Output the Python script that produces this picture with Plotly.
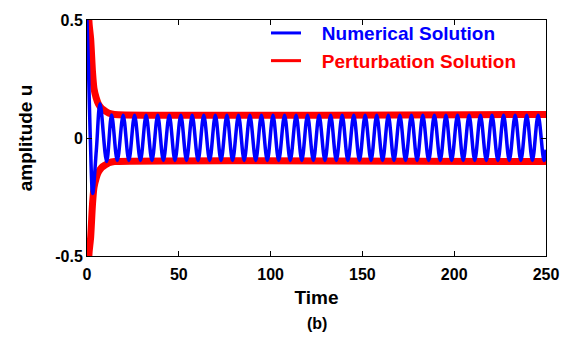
import plotly.graph_objects as go

# Numerical solution: turning points (time, amplitude) of the oscillation
num_t = [0.0, 0.8, 1.8, 3.1, 5.1, 7.1, 10.7,
         13.4, 16.5, 19.7, 22.8, 25.9, 29.1, 32.2, 35.4, 38.5, 41.6,
         44.8, 47.9, 51.1, 54.2, 57.3, 60.5, 63.6, 66.8, 69.9, 73.0,
         76.2, 79.3, 82.5, 85.6, 88.7, 91.9, 95.0, 98.2, 101.3, 104.4,
         107.6, 110.7, 113.9, 117.0, 120.1, 123.3, 126.4, 129.6, 132.7, 135.8,
         139.0, 142.1, 145.3, 148.4, 151.5, 154.7, 157.8, 161.0, 164.1, 167.2,
         170.4, 173.5, 176.7, 179.8, 182.9, 186.1, 189.2, 192.4, 195.5, 198.6,
         201.8, 204.9, 208.1, 211.2, 214.3, 217.5, 220.6, 223.8, 226.9, 230.0,
         233.2, 236.3, 239.5, 242.6, 245.7, 248.9, 250.0]
num_u = [0.5, 0.3, 0.0, -0.235, -0.05, 0.145, -0.1,
         0.097, -0.095, 0.096, -0.095, 0.096, -0.095, 0.096, -0.095, 0.096, -0.095,
         0.096, -0.095, 0.096, -0.095, 0.096, -0.095, 0.096, -0.095, 0.096, -0.095,
         0.096, -0.095, 0.096, -0.095, 0.096, -0.095, 0.096, -0.095, 0.096, -0.095,
         0.096, -0.095, 0.096, -0.095, 0.096, -0.095, 0.096, -0.095, 0.096, -0.095,
         0.096, -0.095, 0.096, -0.095, 0.096, -0.095, 0.096, -0.095, 0.096, -0.095,
         0.096, -0.095, 0.096, -0.095, 0.096, -0.095, 0.096, -0.095, 0.096, -0.095,
         0.096, -0.095, 0.096, -0.095, 0.096, -0.095, 0.096, -0.095, 0.096, -0.095,
         0.096, -0.095, 0.096, -0.095, 0.096, -0.095, -0.05]

# Perturbation solution: amplitude envelope (upper branch, lower is its mirror)
env_t = [0.0, 0.6, 1.2, 2.0, 3.0, 3.8, 5.0, 6.2, 8.0, 9.8, 12.0, 15.0, 250.0]
env_u = [0.62, 0.55, 0.48, 0.42, 0.28, 0.21, 0.17, 0.145, 0.125, 0.115, 0.105, 0.1, 0.1]
env_lo = [-v for v in env_u]

x_ticks = [0, 50, 100, 150, 200, 250]
y_ticks = [-0.5, 0, 0.5]

BLUE = "#0000ff"
RED = "#ff0000"
FONT = "Liberation Sans, Arial, sans-serif"
GAP = "\u00a0\u00a0\u00a0"

M_T, M_B = 13, 84
H = 340
plot_h = H - M_T - M_B

fig = go.Figure()

# envelope (thick red) underneath
for yy in (env_u, env_lo):
    fig.add_trace(go.Scatter(x=env_t, y=yy, mode="lines", showlegend=False,
                             line=dict(color=RED, width=7, shape="spline", smoothing=0.6),
                             hoverinfo="skip"))

# numerical oscillation (blue) on top
fig.add_trace(go.Scatter(x=num_t, y=num_u, mode="lines", showlegend=False,
                         line=dict(color=BLUE, width=3.5, shape="spline", smoothing=1.0),
                         hoverinfo="skip"))

# legend entries
fig.add_trace(go.Scatter(x=[None], y=[None], mode="lines",
                         name=GAP + "<b><span style='color:#0000ff'>Numerical Solution</span></b>",
                         line=dict(color=BLUE, width=3)))
fig.add_trace(go.Scatter(x=[None], y=[None], mode="lines",
                         name=GAP + "<b><span style='color:#ff0000'>Perturbation Solution</span></b>",
                         line=dict(color=RED, width=3)))

axis_common = dict(
    showline=True, linecolor="black", linewidth=1, mirror="ticks",
    ticks="inside", ticklen=5, tickcolor="black", tickwidth=1,
    showgrid=False, zeroline=False,
    tickfont=dict(family=FONT, size=16, color="black", weight="bold"),
)

fig.update_layout(
    width=571, height=H,
    margin=dict(l=87, r=25, t=M_T, b=M_B),
    paper_bgcolor="white", plot_bgcolor="white",
    font=dict(family=FONT, color="black"),
    xaxis=dict(range=[0, 250], tickvals=x_ticks, ticktext=[str(v) for v in x_ticks],
               ticklabelstandoff=4,
               title=dict(text="<b>Time</b>", font=dict(size=19, family=FONT), standoff=8),
               **axis_common),
    yaxis=dict(range=[-0.5, 0.5], tickvals=y_ticks, ticktext=["-0.5", "0", "0.5"],
               title=dict(text="<b>amplitude u</b>", font=dict(size=19, family=FONT), standoff=17),
               **axis_common),
    legend=dict(x=0.39, y=1.025, xanchor="left", yanchor="top",
                bgcolor="rgba(0,0,0,0)", borderwidth=0,
                font=dict(family=FONT, size=19), tracegroupgap=0),
    annotations=[dict(text="<b>(b)</b>", x=0.5, y=-(325 - (H - M_B)) / plot_h,
                      xref="paper", yref="paper", xanchor="center", yanchor="middle",
                      showarrow=False, font=dict(family=FONT, size=16, color="black"))],
)

fig.write_html("out.html")
